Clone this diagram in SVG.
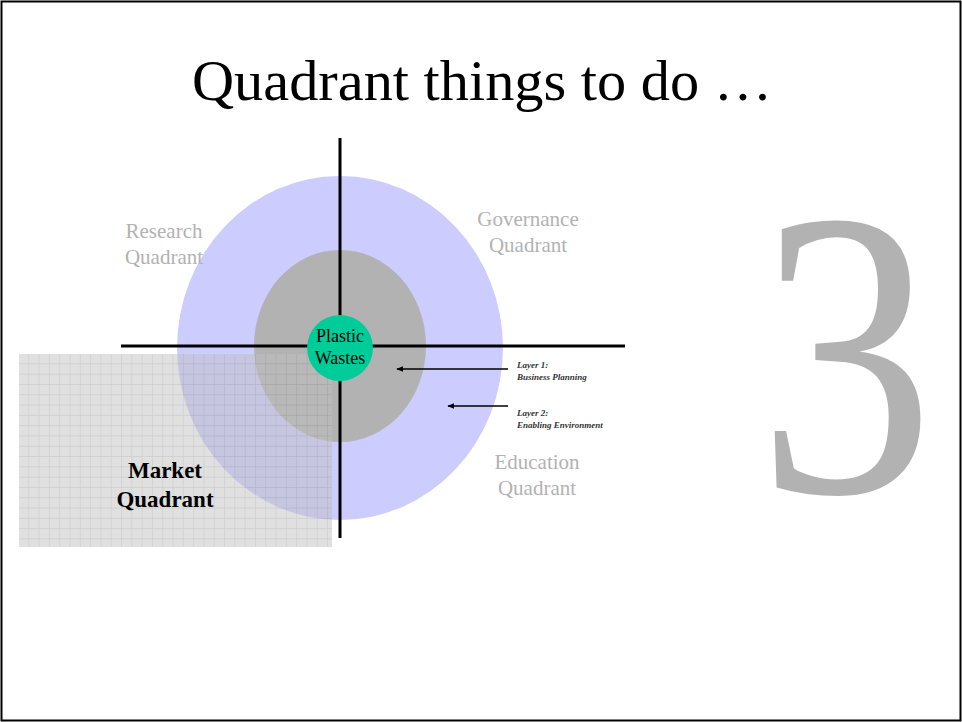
<svg xmlns="http://www.w3.org/2000/svg" width="962" height="722" viewBox="0 0 962 722">
  <style>
    .serif { font-family: "Liberation Serif", "Times New Roman", serif; }
    .quad { font-size: 21px; fill: #b2b2b2; text-anchor: middle; }
    .layer { font-size: 9px; font-style: italic; font-weight: bold; fill: #333333; }
    .axis { stroke: #000000; stroke-width: 3; fill: none; }
    .arrow { stroke: #000000; stroke-width: 1.3; fill: none; marker-end: url(#arrowhead); }
  </style>
  <defs>
    <marker id="arrowhead" viewBox="0 0 10 8" refX="9" refY="4" markerWidth="7" markerHeight="6" markerUnits="userSpaceOnUse" orient="auto">
      <path d="M0,0 L10,4 L0,8 Z" fill="#000000"/>
    </marker>
    <pattern id="grid" x="19" y="354" width="10.3" height="10.3" patternUnits="userSpaceOnUse">
      <rect x="0" y="0" width="10.3" height="10.3" fill="#c0c0c0"/>
      <path d="M10.3,0 L10.3,10.3 M0,10.3 L10.3,10.3" stroke="#999999" stroke-width="1.2"/>
    </pattern>
  </defs>

  <rect x="1.5" y="1.5" width="959" height="719" fill="#ffffff" stroke="#000000" stroke-width="2"/>

  <text id="title" class="serif" x="482" y="100" font-size="56" text-anchor="middle" textLength="580" lengthAdjust="spacingAndGlyphs" fill="#000000">Quadrant things to do …</text>

  <g id="layer2-ellipse">
    <ellipse cx="340" cy="348" rx="163" ry="172" fill="#ccccff"/>
  </g>
  <g id="layer1-ellipse">
    <ellipse cx="340" cy="346" rx="86" ry="96" fill="#b2b2b2"/>
  </g>

  <g id="market-quadrant">
    <rect x="19" y="354" width="313" height="193" fill="url(#grid)" opacity="0.5"/>
    <text class="serif" x="165" y="478" font-size="23" font-weight="bold" text-anchor="middle" fill="#000000">Market</text>
    <text class="serif" x="165" y="507" font-size="23" font-weight="bold" text-anchor="middle" fill="#000000">Quadrant</text>
  </g>

  <g id="axes">
    <line class="axis" x1="340" y1="138" x2="340" y2="538"/>
    <line class="axis" x1="121" y1="346" x2="625" y2="346"/>
  </g>

  <g id="plastic-wastes">
    <circle cx="340" cy="348" r="33" fill="#00cc99"/>
    <text class="serif" x="340" y="342" font-size="18" text-anchor="middle" fill="#000000">Plastic</text>
    <text class="serif" x="340" y="364" font-size="18" text-anchor="middle" fill="#000000">Wastes</text>
  </g>

  <g id="research-quadrant">
    <text class="serif quad" x="164" y="238">Research</text>
    <text class="serif quad" x="164" y="264">Quadrant</text>
  </g>
  <g id="governance-quadrant">
    <text class="serif quad" x="528" y="226">Governance</text>
    <text class="serif quad" x="528" y="252">Quadrant</text>
  </g>
  <g id="education-quadrant">
    <text class="serif quad" x="537" y="469">Education</text>
    <text class="serif quad" x="537" y="495">Quadrant</text>
  </g>

  <g id="connectors">
    <line class="arrow" x1="508" y1="369" x2="397" y2="369"/>
    <line class="arrow" x1="508" y1="406" x2="448" y2="406"/>
  </g>

  <g id="layer1-label">
    <text class="serif layer" x="517" y="368">Layer 1:</text>
    <text class="serif layer" x="517" y="380">Business Planning</text>
  </g>
  <g id="layer2-label">
    <text class="serif layer" x="517" y="416">Layer 2:</text>
    <text class="serif layer" x="517" y="428">Enabling Environment</text>
  </g>

  <text id="number" class="serif" x="846" y="492" font-size="410" text-anchor="middle" fill="#b2b2b2" transform="translate(846,0) scale(0.86,1) translate(-846,0)">3</text>
</svg>
